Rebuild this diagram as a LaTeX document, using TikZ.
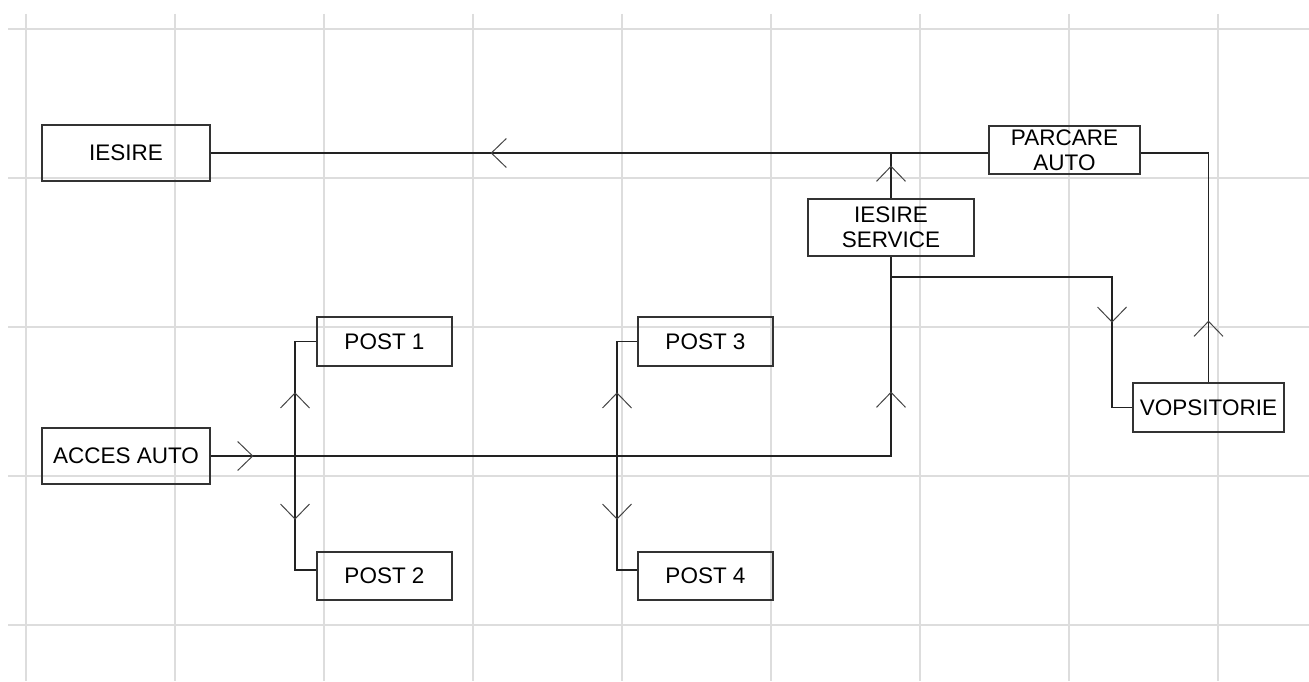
\documentclass[tikz,border=0pt]{standalone}
\usepackage{fontspec}
\setmainfont{Liberation Sans}
\usetikzlibrary{decorations.markings}
\definecolor{gridc}{HTML}{DDDDDD}
\definecolor{linec}{HTML}{222222}
\definecolor{boxc}{HTML}{333333}
\definecolor{arrc}{HTML}{444444}
\tikzset{
  gridline/.style={draw=gridc, line width=1.3bp},
  box/.style={draw=boxc, line width=1.3bp, inner sep=0pt, align=center,
    font=\fontsize{22.5bp}{24.6bp}\selectfont},
  conn/.style={draw=linec, line width=1.3bp},
  midarr/.style={postaction={decorate, decoration={markings,
    mark=at position #1 with {\draw[arrc, line width=1bp, line join=miter] (-15,14.5) -- (0,0) -- (-15,-14.5);}}}}
}
\begin{document}
\begin{tikzpicture}[x=1bp, y=-1bp]
\useasboundingbox (0,0) rectangle (1309,681);
% grid
\foreach \gx in {26,175,324,473,622,771,920,1069,1218}
  \draw[gridline] (\gx,14) -- (\gx,681);
\foreach \gy in {29,178,327,476,625}
  \draw[gridline] (8,\gy) -- (1309,\gy);

% boxes
\node[box, minimum width=168bp, minimum height=56bp] (iesire) at (126,153) {IESIRE};
\node[box, minimum width=151bp, minimum height=48bp] (parc) at (1064.5,150) {PARCARE\\AUTO};
\node[box, minimum width=166bp, minimum height=57bp] (serv) at (891,227.5) {IESIRE\\SERVICE};
\node[box, minimum width=151bp, minimum height=49bp] (vops) at (1208.5,407.5) {VOPSITORIE};
\node[box, minimum width=168bp, minimum height=56bp] (acc) at (126,456) {ACCES AUTO};
\node[box, minimum width=135bp, minimum height=49bp] (post1) at (384.5,341.5) {POST 1};
\node[box, minimum width=135bp, minimum height=48bp] (post2) at (384.5,576) {POST 2};
\node[box, minimum width=135bp, minimum height=49bp] (post3) at (705.5,341.5) {POST 3};
\node[box, minimum width=135bp, minimum height=48bp] (post4) at (705.5,576) {POST 4};

% junctions
\coordinate (jtop) at (891,153);
\coordinate (jserv) at (891,277);
\coordinate (jacc) at (891,456);
\coordinate (vx) at (1112,277);
\coordinate (j1) at (295,456);
\coordinate (j3) at (617,456);

% connectors
\draw[conn, midarr=497bp] (parc.west |- jtop) -- (iesire.east);
\draw[conn, midarr=32bp] (serv.north) -- (jtop);
\draw[conn, midarr=42bp, midarr=744bp] (acc.east) -- (jacc) -- (serv.south);
\draw[conn, midarr=266bp] (jserv) -- (vx) |- (vops.west);
\draw[conn, midarr=61bp] (vops.north) |- (parc.east |- jtop);
\draw[conn, midarr=63bp] (j1) |- (post1.west);
\draw[conn, midarr=63bp] (j1) |- ([yshift=6bp]post2.west);
\draw[conn, midarr=63bp] (j3) |- (post3.west);
\draw[conn, midarr=63bp] (j3) |- ([yshift=6bp]post4.west);
\end{tikzpicture}
\end{document}
